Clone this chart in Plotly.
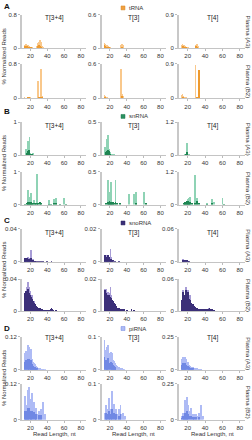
import plotly.graph_objects as go

# ---------------- data ----------------
COLUMNS = ["T[3+4]", "T[3]", "T[4]"]
ROWS = ["Plasma (A3)", "Plasma (B2)"]
CLASSES = ["tRNA", "snRNA", "snoRNA", "piRNA"]
LETTERS = ["A", "B", "C", "D"]
X_TICKS = [20, 40, 60, 80]
X_TITLE = "Read Length, nt"
Y_TITLE = "% Normalized Reads"

TRNA_YMAX = [0.8, 0.6, 0.9]
SNRNA_YMAX = [1, 0.5, 1.2]
SNORNA_YMAX = [0.04, 0.02, 0.06]
PIRNA_YMAX = [0.12, 0.1, 0.25]

# (read length, % normalized reads) pairs, light and dark bars
TRNA_A3_T34_L = [(13,.09),(14,.08),(15,.1),(16,.07),(17,.08),(18,.06),(19,.05),(20,.03),(21,.02),(22,.01),(28,.05),(29,.12),(30,.15),(31,.2),(32,.1),(33,.14),(34,.05),(35,.02)]
TRNA_A3_T34_D = [(13,.04),(14,.05),(15,.04),(16,.05),(17,.03),(18,.03),(19,.02),(20,.02),(21,.01),(22,.005),(23,.005),(24,.005),(25,.005),(26,.005),(27,.005),(29,.05),(30,.08),(31,.06),(33,.03)]
TRNA_A3_T3_L = [(13,.1),(14,.07),(15,.06),(16,.05),(17,.04),(18,.03),(19,.02),(20,.01),(33,.05),(34,.07),(35,.06)]
TRNA_A3_T3_D = [(13,.05),(14,.04),(15,.03),(16,.03),(17,.02),(18,.015),(19,.01),(20,.004),(22,.004),(24,.004),(26,.004),(28,.004),(30,.004),(32,.004),(34,.03)]
TRNA_A3_T4_L = [(13,.08),(14,.12),(15,.1),(16,.09),(17,.06),(18,.04),(19,.03),(20,.02),(29,.08),(30,.1),(31,.12),(32,.06)]
TRNA_A3_T4_D = [(14,.06),(15,.05),(16,.04),(17,.03),(18,.02),(30,.05),(31,.04)]
TRNA_B2_T34_L = [(13,.02),(14,.01),(17,.03),(18,.04),(19,.03),(20,.02),(29,.4),(30,.03),(33,.68),(34,.05)]
TRNA_B2_T34_D = [(17,.02),(18,.03),(21,.005),(23,.005),(25,.005),(27,.005),(30,.02),(31,.03),(32,.02),(34,.03)]
TRNA_B2_T3_L = [(13,.06),(14,.04),(15,.03),(16,.02),(33,.52),(34,.08),(35,.04)]
TRNA_B2_T3_D = [(13,.03),(14,.02),(17,.004),(20,.004),(23,.004),(26,.004),(29,.004),(32,.004),(34,.04)]
TRNA_B2_T4_L = [(13,.08),(14,.12),(15,.06),(16,.04),(17,.03),(18,.02),(29,.88),(30,.04)]
TRNA_B2_T4_D = [(14,.05),(15,.03),(31,.03),(32,.02),(33,.75)]

SNRNA_A3_T34_L = [(15,.2),(16,.18),(17,.42),(18,.1),(19,.55),(20,.05),(23,.05)]
SNRNA_A3_T34_D = [(16,.05),(17,.12),(18,.15),(19,.1),(20,.03),(21,.02),(22,.01)]
SNRNA_A3_T3_L = [(14,.12),(15,.08),(16,.25),(17,.3),(18,.1),(19,.05),(20,.04),(22,.02),(24,.02)]
SNRNA_A3_T3_D = [(15,.04),(16,.06),(17,.08),(18,.07),(19,.05),(20,.02)]
SNRNA_A3_T4_L = [(17,.05),(19,.45),(20,.03),(22,.03)]
SNRNA_A3_T4_D = [(18,.04),(19,.1)]
SNRNA_B2_T34_L = [(17,.45),(19,.25),(21,.35),(24,.15),(28,.95),(42,.15),(48,.18),(50,.2),(60,.2)]
SNRNA_B2_T34_D = [(14,.02),(16,.03),(17,.1),(18,.05),(19,.1),(20,.08),(21,.1),(22,.05),(23,.04),(25,.05),(26,.03),(28,.05),(29,.03),(31,.1),(33,.04),(42,.02),(44,.02),(48,.03),(50,.03),(55,.01),(62,.02)]
SNRNA_B2_T3_L = [(17,.38),(19,.2),(21,.35),(26,.38),(42,.17),(48,.17),(50,.2),(60,.2)]
SNRNA_B2_T3_D = [(15,.02),(17,.05),(18,.04),(19,.06),(20,.04),(21,.05),(22,.03),(23,.05),(24,.03),(26,.05),(28,.03),(31,.03),(50,.02),(62,.02)]
SNRNA_B2_T4_L = [(17,.1),(19,.15),(20,.2),(21,.25),(23,.3),(28,1.1),(31,.25),(42,.05),(48,.2),(50,.1),(60,.25)]
SNRNA_B2_T4_D = [(16,.05),(17,.1),(18,.08),(19,.15),(20,.1),(21,.15),(22,.12),(23,.12),(25,.05),(28,.05),(31,.15),(33,.05),(42,.02),(48,.05),(62,.02)]

SNORNA_A3_T34_L = [(14,.005),(17,.006),(19,.005),(21,.014),(22,.004),(23,.003)]
SNORNA_A3_T34_D = [(13,.004),(14,.005),(15,.004),(16,.005),(17,.004),(18,.003),(19,.004),(20,.003),(21,.005),(22,.002),(23,.002),(24,.001),(25,.001),(26,.001),(28,.0008),(30,.0006),(33,.0005),(35,.0004),(40,.0003),(45,.0003)]
SNORNA_A3_T3_L = [(16,.004),(20,.008),(21,.003)]
SNORNA_A3_T3_D = [(13,.003),(14,.004),(15,.003),(16,.003),(17,.004),(18,.003),(19,.002),(20,.002),(21,.002),(22,.001),(23,.0008),(25,.0005),(30,.0003)]
SNORNA_A3_T4_L = [(15,.005)]
SNORNA_A3_T4_D = [(14,.002),(15,.004),(16,.003),(17,.003),(18,.002),(19,.002),(20,.001),(21,.001),(22,.0008)]
SNORNA_B2_T34_L = [(16,.03),(17,.036),(18,.03),(20,.025),(22,.02),(24,.013),(45,.004)]
SNORNA_B2_T34_D = [(13,.02),(14,.022),(15,.025),(16,.02),(17,.028),(18,.022),(19,.018),(20,.02),(21,.017),(22,.015),(23,.012),(24,.01),(25,.009),(26,.007),(27,.006),(28,.005),(29,.004),(30,.003),(31,.003),(32,.002),(33,.002),(34,.0015),(35,.001),(36,.001),(38,.0008),(40,.0006),(42,.001),(44,.002),(45,.003),(46,.002),(47,.001),(50,.0005)]
SNORNA_B2_T3_L = [(14,.014),(15,.014),(17,.012),(18,.011),(20,.015),(21,.01)]
SNORNA_B2_T3_D = [(13,.01),(14,.013),(15,.011),(16,.009),(17,.01),(18,.008),(19,.01),(20,.009),(21,.008),(22,.007),(23,.006),(24,.005),(25,.004),(26,.003),(27,.003),(28,.002),(29,.002),(30,.0015),(32,.001),(34,.0008),(36,.0006),(40,.0004),(45,.0006),(48,.0004)]
SNORNA_B2_T4_L = [(15,.04),(18,.045),(20,.04),(23,.03),(44,.006)]
SNORNA_B2_T4_D = [(13,.02),(14,.03),(15,.035),(16,.03),(17,.025),(18,.04),(19,.028),(20,.035),(21,.025),(22,.022),(23,.02),(24,.015),(25,.013),(26,.012),(27,.01),(28,.008),(29,.007),(30,.006),(31,.005),(32,.004),(33,.004),(34,.003),(35,.003),(36,.002),(38,.002),(40,.002),(42,.003),(44,.004),(45,.005),(46,.003),(48,.002),(50,.001)]

PIRNA_A3_T34_L = [(13,.06),(14,.055),(15,.07),(16,.065),(17,.09),(18,.085),(19,.05),(20,.06),(21,.075),(22,.04),(23,.03),(24,.025),(25,.02),(26,.018),(27,.015),(28,.01),(29,.008),(30,.006),(31,.005),(32,.004),(33,.003),(34,.002),(35,.002),(36,.001),(38,.001)]
PIRNA_A3_T34_D = [(13,.03),(15,.035),(17,.04),(18,.04),(20,.03),(21,.035),(22,.02),(23,.015),(24,.012),(25,.01),(26,.008),(27,.007),(28,.005)]
PIRNA_A3_T3_L = [(13,.09),(14,.05),(15,.06),(16,.07),(17,.075),(18,.05),(19,.045),(20,.04),(21,.055),(22,.05),(23,.03),(24,.028),(25,.022),(26,.018),(27,.015),(28,.012),(29,.01),(30,.008),(31,.006),(32,.005),(33,.004),(34,.003),(35,.002),(36,.001)]
PIRNA_A3_T3_D = [(13,.04),(15,.03),(16,.03),(17,.035),(19,.02),(21,.025),(22,.02),(23,.015),(24,.012),(25,.01),(26,.008)]
PIRNA_A3_T4_L = [(13,.08),(14,.09),(15,.1),(16,.09),(17,.1),(18,.08),(19,.05),(20,.06),(21,.05),(22,.04),(23,.03),(24,.025),(25,.022),(26,.02),(27,.018),(28,.015),(29,.012),(30,.01),(31,.008),(32,.006),(33,.005),(34,.004),(35,.003),(36,.002)]
PIRNA_A3_T4_D = [(13,.04),(14,.045),(15,.05),(16,.045),(17,.05),(18,.04),(20,.03),(21,.025),(22,.02),(23,.015),(24,.012),(25,.01),(26,.01)]
PIRNA_B2_T34_L = [(13,.02),(14,.08),(15,.05),(16,.03),(17,.1),(18,.11),(19,.03),(20,.045),(21,.07),(22,.09),(23,.025),(24,.06),(25,.02),(26,.025),(27,.04),(28,.02),(29,.015),(30,.03),(31,.015),(32,.02),(33,.035),(34,.01),(35,.06),(36,.01),(37,.02),(38,.005)]
PIRNA_B2_T34_D = [(14,.03),(15,.03),(16,.02),(17,.04),(18,.04),(20,.03),(21,.03),(22,.03),(24,.025),(26,.015),(27,.02),(30,.015),(33,.015)]
PIRNA_B2_T3_L = [(13,.01),(14,.02),(15,.04),(16,.03),(17,.02),(18,.06),(19,.04),(20,.025),(21,.03),(22,.08),(23,.02),(24,.045),(25,.02),(26,.02),(27,.03),(28,.015),(29,.01),(30,.03),(31,.01),(32,.04),(33,.015),(34,.01),(35,.02),(36,.005),(37,.01)]
PIRNA_B2_T3_D = [(15,.02),(16,.015),(18,.025),(19,.02),(21,.015),(22,.03),(24,.02),(26,.01),(27,.015),(30,.012),(32,.015)]
PIRNA_B2_T4_L = [(13,.03),(14,.02),(15,.05),(16,.04),(17,.14),(18,.06),(19,.16),(20,.1),(21,.05),(22,.06),(23,.03),(24,.08),(25,.03),(26,.04),(27,.04),(28,.03),(29,.02),(30,.04),(31,.03),(32,.03),(33,.05),(34,.02),(35,.1),(36,.02),(37,.015),(38,.03)]
PIRNA_B2_T4_D = [(13,.015),(15,.025),(16,.02),(17,.05),(18,.03),(19,.06),(20,.04),(22,.03),(24,.03),(26,.02),(27,.02),(30,.02),(33,.02)]

# ---------------- style ----------------
LIGHT = ["#F9C88C", "#8FD3B5", "#A79CD6", "#AEBBF5"]
DARK = ["#EE9A2E", "#1E8552", "#3B2F78", "#7088E4"]
LEGEND_FILL = ["#F0A040", "#2A9060", "#3B2F78", "#AEBBF5"]
LEGEND_LINE = ["#D98A2A", "#1E7A4C", "#2D2460", "#6F86E0"]
FONT = "Liberation Sans, Arial, sans-serif"
W, H = 252, 440

# row pixel positions (top tick, zero line)
ROW_PX = [(12, 45.7), (61.7, 96.7), (120.7, 154.3), (171, 204.3),
          (229, 262.3), (280, 312.3), (338.3, 371.7), (386, 422.3)]
COL_PX = [(22, 86), (101.5, 165.5), (179, 245)]
LEGEND_Y = [5, 115, 223, 330]
TITLE_Y = [15, 125, 233, 340]
LETTER_Y = [4, 110, 220, 330]

DATA = [
    [[(TRNA_A3_T34_L, TRNA_A3_T34_D), (TRNA_A3_T3_L, TRNA_A3_T3_D), (TRNA_A3_T4_L, TRNA_A3_T4_D)],
     [(TRNA_B2_T34_L, TRNA_B2_T34_D), (TRNA_B2_T3_L, TRNA_B2_T3_D), (TRNA_B2_T4_L, TRNA_B2_T4_D)]],
    [[(SNRNA_A3_T34_L, SNRNA_A3_T34_D), (SNRNA_A3_T3_L, SNRNA_A3_T3_D), (SNRNA_A3_T4_L, SNRNA_A3_T4_D)],
     [(SNRNA_B2_T34_L, SNRNA_B2_T34_D), (SNRNA_B2_T3_L, SNRNA_B2_T3_D), (SNRNA_B2_T4_L, SNRNA_B2_T4_D)]],
    [[(SNORNA_A3_T34_L, SNORNA_A3_T34_D), (SNORNA_A3_T3_L, SNORNA_A3_T3_D), (SNORNA_A3_T4_L, SNORNA_A3_T4_D)],
     [(SNORNA_B2_T34_L, SNORNA_B2_T34_D), (SNORNA_B2_T3_L, SNORNA_B2_T3_D), (SNORNA_B2_T4_L, SNORNA_B2_T4_D)]],
    [[(PIRNA_A3_T34_L, PIRNA_A3_T34_D), (PIRNA_A3_T3_L, PIRNA_A3_T3_D), (PIRNA_A3_T4_L, PIRNA_A3_T4_D)],
     [(PIRNA_B2_T34_L, PIRNA_B2_T34_D), (PIRNA_B2_T3_L, PIRNA_B2_T3_D), (PIRNA_B2_T4_L, PIRNA_B2_T4_D)]],
]
YMAX = [TRNA_YMAX, SNRNA_YMAX, SNORNA_YMAX, PIRNA_YMAX]


def fmt(v):
    return ("%g" % v)


def px_x(p):
    return p / W


def px_y(p):
    return 1 - p / H


fig = go.Figure()
layout = dict(width=W, height=H, margin=dict(l=0, r=0, t=0, b=0),
              paper_bgcolor="white", plot_bgcolor="white",
              showlegend=False, barmode="overlay", bargap=0,
              font=dict(family=FONT, size=6, color="#333333"))
annotations = []
shapes = []

idx = 0
for p, cls in enumerate(CLASSES):
    for r in range(2):
        top, zero = ROW_PX[2 * p + r]
        for c in range(3):
            idx += 1
            xa = "x" if idx == 1 else "x%d" % idx
            ya = "y" if idx == 1 else "y%d" % idx
            light, dark = DATA[p][r][c]
            ymax = YMAX[p][c]
            fig.add_trace(go.Bar(x=[a for a, b in light], y=[b for a, b in light],
                                 marker=dict(color=LIGHT[p], line=dict(width=0)),
                                 width=0.9, xaxis=xa, yaxis=ya, hoverinfo="skip"))
            fig.add_trace(go.Bar(x=[a for a, b in dark], y=[b for a, b in dark],
                                 marker=dict(color=DARK[p], line=dict(width=0)),
                                 width=0.9, xaxis=xa, yaxis=ya, hoverinfo="skip"))
            x0, x1 = COL_PX[c]
            kx = "xaxis" if idx == 1 else "xaxis%d" % idx
            ky = "yaxis" if idx == 1 else "yaxis%d" % idx
            layout[kx] = dict(domain=[px_x(x0), px_x(x1)], anchor=ya, range=[10, 86],
                              tickvals=X_TICKS, ticks="outside", ticklen=2,
                              tickcolor="#bbbbbb", showline=True, linecolor="#c4c4c4",
                              linewidth=1, showgrid=False, zeroline=False,
                              tickfont=dict(size=6, color="#333333"), fixedrange=True)
            layout[ky] = dict(domain=[px_y(zero), px_y(top)], anchor=xa, range=[0, ymax],
                              tickvals=[0, ymax], ticktext=["0", fmt(ymax)],
                              ticks="outside", ticklen=2, tickcolor="#bbbbbb",
                              showline=True, linecolor="#c8c8c8", linewidth=2,
                              showgrid=False, zeroline=False,
                              tickfont=dict(size=6, color="#333333"), fixedrange=True)
            if r == 0:
                annotations.append(dict(x=px_x((x0 + x1) / 2), y=px_y(TITLE_Y[p]),
                                        xref="paper", yref="paper", text=COLUMNS[c],
                                        showarrow=False, font=dict(size=6.5, color="#222222"),
                                        xanchor="center", yanchor="middle"))
        # right-side row label
        annotations.append(dict(x=px_x(248), y=px_y((top + zero) / 2), xref="paper", yref="paper",
                                text=ROWS[r], textangle=90, showarrow=False,
                                font=dict(size=6, color="#333333"),
                                xanchor="center", yanchor="middle"))
    # panel letter
    annotations.append(dict(x=px_x(2), y=px_y(LETTER_Y[p]), xref="paper", yref="paper",
                            text="<b>%s</b>" % LETTERS[p], showarrow=False,
                            font=dict(size=8, color="#111111"), xanchor="left", yanchor="middle"))
    # y title
    t1 = ROW_PX[2 * p][0]
    z2 = ROW_PX[2 * p + 1][1]
    annotations.append(dict(x=px_x(4), y=px_y((t1 + z2) / 2), xref="paper", yref="paper",
                            text=Y_TITLE, textangle=-90, showarrow=False,
                            font=dict(size=6, color="#333333"),
                            xanchor="center", yanchor="middle"))
    # legend
    ly = LEGEND_Y[p]
    shapes.append(dict(type="rect", xref="paper", yref="paper",
                       x0=px_x(121), x1=px_x(125), y0=px_y(ly + 2), y1=px_y(ly - 2),
                       fillcolor=LEGEND_FILL[p], line=dict(color=LEGEND_LINE[p], width=0.5)))
    annotations.append(dict(x=px_x(126.5), y=px_y(ly), xref="paper", yref="paper",
                            text=cls, showarrow=False, font=dict(size=6, color="#333333"),
                            xanchor="left", yanchor="middle"))

for c in range(3):
    x0, x1 = COL_PX[c]
    annotations.append(dict(x=px_x((x0 + x1) / 2), y=px_y(437), xref="paper", yref="paper",
                            text=X_TITLE, showarrow=False, font=dict(size=6, color="#333333"),
                            xanchor="center", yanchor="middle"))

layout["annotations"] = annotations
layout["shapes"] = shapes
fig.update_layout(**layout)
fig.write_html("out.html", config={"displayModeBar": False})
